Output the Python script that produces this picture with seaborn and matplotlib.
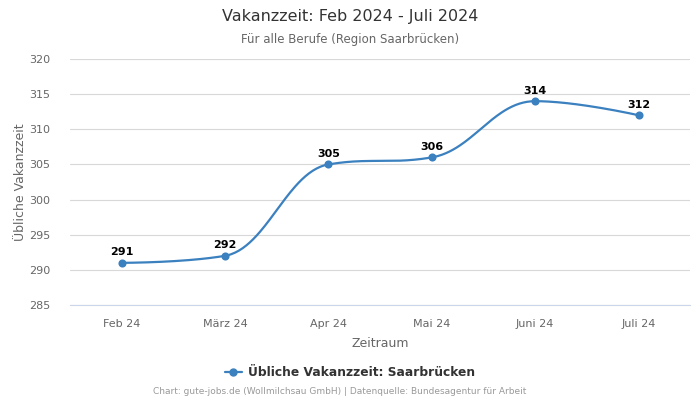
import numpy as np
import pandas as pd
import seaborn as sns
import matplotlib
matplotlib.use("Agg")
import matplotlib.pyplot as plt
from matplotlib.lines import Line2D

categories = ["Feb 24", "März 24", "Apr 24", "Mai 24", "Juni 24", "Juli 24"]
values = [291, 292, 305, 306, 314, 312]
series_name = "Übliche Vakanzzeit: Saarbrücken"
yticks = [285, 290, 295, 300, 305, 310, 315, 320]

color = "#3b80bf"

sns.set_theme(style="white")
plt.rcParams['font.family'] = ['DejaVu Sans']


def highcharts_spline(xs, ys, n=60):
    xs = np.asarray(xs, float)
    ys = np.asarray(ys, float)
    m = len(xs)
    lc = [(xs[i], ys[i]) for i in range(m)]
    rc = [(xs[i], ys[i]) for i in range(m)]
    s = 1.5
    d = s + 1
    for i in range(1, m - 1):
        px, py = xs[i], ys[i]
        lx, ly = xs[i - 1], ys[i - 1]
        nx, ny = xs[i + 1], ys[i + 1]
        lcx = (s * px + lx) / d
        lcy = (s * py + ly) / d
        rcx = (s * px + nx) / d
        rcy = (s * py + ny) / d
        corr = 0.0
        if rcx != lcx:
            corr = (rcy - lcy) * (rcx - px) / (rcx - lcx) + py - rcy
        lcy += corr
        rcy += corr
        if lcy > ly and lcy > py:
            lcy = max(ly, py)
            rcy = 2 * py - lcy
        elif lcy < ly and lcy < py:
            lcy = min(ly, py)
            rcy = 2 * py - lcy
        if rcy > ny and rcy > py:
            rcy = max(ny, py)
            lcy = 2 * py - rcy
        elif rcy < ny and rcy < py:
            rcy = min(ny, py)
            lcy = 2 * py - rcy
        lc[i] = (lcx, lcy)
        rc[i] = (rcx, rcy)
    outx, outy = [], []
    t = np.linspace(0, 1, n)
    for i in range(m - 1):
        p0 = np.array([xs[i], ys[i]])
        p1 = np.array(rc[i])
        p2 = np.array(lc[i + 1])
        p3 = np.array([xs[i + 1], ys[i + 1]])
        b = ((1 - t) ** 3)[:, None] * p0 + (3 * (1 - t) ** 2 * t)[:, None] * p1 \
            + (3 * (1 - t) * t ** 2)[:, None] * p2 + (t ** 3)[:, None] * p3
        outx.extend(b[:, 0])
        outy.extend(b[:, 1])
    return np.array(outx), np.array(outy)


df = pd.DataFrame({"x": np.arange(len(categories)), "value": values})

fig = plt.figure(figsize=(7, 4), dpi=100)
ax = fig.add_axes([0.1, 0.2375, 0.886, 0.615])

sx, sy = highcharts_spline(df["x"], df["value"])
ax.plot(sx, sy, color=color, lw=1.6, zorder=3)
sns.scatterplot(data=df, x="x", y="value", color=color, s=34, edgecolor=color,
                linewidth=0, ax=ax, zorder=4, legend=False)

for xi, v in zip(df["x"], df["value"]):
    ax.annotate(str(v), (xi, v), xytext=(0, 4), textcoords="offset points",
                ha="center", va="bottom", fontsize=8, fontweight="bold", color="#000000")

ax.set_xlim(-0.5, len(categories) - 0.5)
ax.set_ylim(285, 320)
ax.set_yticks(yticks)
ax.set_xticks(df["x"])
ax.set_xticklabels(categories)
ax.tick_params(axis="both", length=0, labelsize=8, labelcolor="#666666")
ax.tick_params(axis="x", pad=10)
ax.tick_params(axis="y", pad=14)
ax.grid(axis="y", color="#d8d8d8", lw=0.8)
ax.grid(axis="x", visible=False)
for sp in ["top", "right", "left"]:
    ax.spines[sp].set_visible(False)
ax.spines["bottom"].set_color("#ccd6eb")
ax.spines["bottom"].set_linewidth(0.8)
ax.set_xlabel("Zeitraum", fontsize=9, color="#666666", labelpad=6)
ax.set_ylabel("Übliche Vakanzzeit", fontsize=9, color="#666666", labelpad=2)

fig.text(0.5, 1 - 17 / 400, "Vakanzzeit: Feb 2024 - Juli 2024", ha="center", va="center",
         fontsize=11.5, color="#333333")
fig.text(0.5, 1 - 39 / 400, "Für alle Berufe (Region Saarbrücken)", ha="center", va="center",
         fontsize=8.5, color="#666666")

handle = Line2D([0], [0], color=color, lw=1.6, marker="o", markersize=5)
leg = fig.legend([handle], [series_name], loc="center", bbox_to_anchor=(0.5, 1 - 373 / 400),
                 frameon=False, prop={"size": 8.8, "weight": "bold"}, handlelength=1.4,
                 handletextpad=0.5)
for t in leg.get_texts():
    t.set_color("#333333")

fig.text(340 / 700, 1 - 392 / 400,
         "Chart: gute-jobs.de (Wollmilchsau GmbH) | Datenquelle: Bundesagentur für Arbeit",
         ha="center", va="center", fontsize=6.45, color="#999999")

fig.savefig("out.png", dpi=100)
